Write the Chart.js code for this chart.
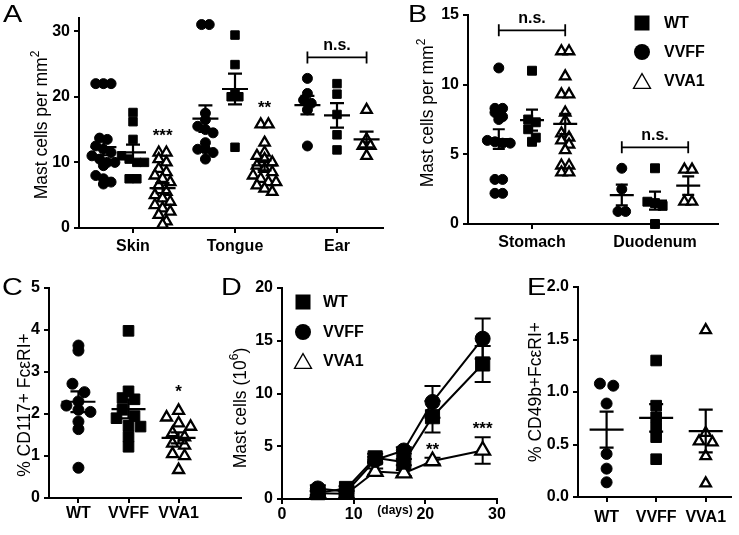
<!DOCTYPE html>
<html><head><meta charset="utf-8"><title>Mast cells</title>
<script src="https://cdn.jsdelivr.net/npm/chart.js@4.4.1/dist/chart.umd.min.js"></script>
<style>
html,body{margin:0;padding:0;background:#fff;}
#fig{position:relative;width:739px;height:535px;overflow:hidden;background:#fff;}
#fig canvas{position:absolute;}
</style></head>
<body><div id="fig">
<canvas id="cA"></canvas><canvas id="cB"></canvas><canvas id="cC"></canvas><canvas id="cD"></canvas><canvas id="cE"></canvas>
</div>
<script>
// ================= DATA =================
const groupNames = ['WT', 'VVFF', 'VVA1'];

// Panel A : mast cells per mm2
const tissuesA = ['Skin', 'Tongue', 'Ear'];
const skinVVFF   = [22, 22, 22, 13.7, 13.5, 12.5, 12, 11.5, 11, 10.5, 10, 10, 9.5, 8, 7.5, 7, 6.7];
const skinWT     = [17.6, 16.2, 13.5, 11, 10.5, 10, 10, 7.5, 7.5];
const skinVVA1   = [11.5, 11.5, 10.5, 10, 9, 8.5, 8, 7.5, 7, 6.5, 5.5, 5, 4.5, 4, 3.5, 3, 2.5, 2, 1, 0.5];
const tongueVVFF = [31, 31, 17.5, 16.5, 15.5, 15, 14.5, 13, 12, 12, 11.5, 10.5];
const tongueWT   = [29.4, 24.9, 20.5, 20, 20, 12.3];
const tongueVVA1 = [15.8, 15.8, 13, 11.5, 11, 10.5, 10, 9.5, 9, 8.5, 8, 7.5, 7, 7, 6.5, 6, 5.5];
const earVVFF    = [22.8, 20.5, 19.5, 19, 18, 12.5];
const earWT      = [22, 20.4, 17.3, 14.2, 11.9];
const earVVA1    = [18, 13.5, 12.5, 12.5, 11];
const ticksA = [0, 10, 20, 30];

// Panel B
const tissuesB = ['Stomach', 'Duodenum'];
const stomachVVFF = [11.2, 8.3, 8.3, 8, 7.7, 7.5, 6, 5.9, 5.8, 5.8, 3.2, 3.2, 2.2, 2.2];
const stomachWT   = [11, 7.5, 7.3, 6.8, 6.2, 5.9];
const stomachVVA1 = [12.4, 12.4, 10.6, 9.3, 9.3, 8, 7.4, 6.5, 6.2, 6, 5.7, 5.3, 4.2, 4.2, 3.7, 3.7];
const duodVVFF = [4.0, 2.5, 0.9, 0.9];
const duodWT   = [4.0, 1.6, 1.5, 1.3, 0];
const duodVVA1 = [3.9, 3.9, 1.6, 1.6];
const ticksB = [0, 5, 10, 15];

// Panel C : % CD117+ FceRI+
const cWT   = [3.63, 3.51, 2.72, 2.52, 2.3, 2.2, 2.1, 2.05, 1.82, 1.64, 0.72];
const cVVFF = [3.98, 2.54, 2.38, 2.35, 2.1, 1.95, 1.9, 1.72, 1.7, 1.46, 1.22];
const cVVA1 = [2.08, 1.92, 1.78, 1.7, 1.55, 1.45, 1.3, 1.25, 1.05, 1.0, 0.67];
const ticksC = [0, 1, 2, 3, 4, 5];

// Panel D : mast cells (10^6) over days
const days = [5, 9, 13, 17, 21, 28];
const dWT      = [0.6, 1.0, 3.9, 3.5, 7.8, 12.8];
const dWTsem   = [0.2, 0.2, 0.4, 0.3, 1.5, 1.7];
const dVVFF    = [1.0, 0.7, 3.7, 4.6, 9.2, 15.2];
const dVVFFsem = [0.3, 0.2, 0.3, 0.3, 1.5, 1.9];
const dVVA1    = [0.55, 0.5, 2.6, 2.45, 3.6, 4.6];
const dVVA1sem = [0.2, 0.2, 0.3, 0.3, 0.3, 1.25];
const ticksDx = [0, 10, 20, 30];
const ticksDy = [0, 5, 10, 15, 20];

// Panel E : % CD49b+FceRI+
const eWT   = [1.08, 1.06, 0.89, 0.41, 0.27, 0.14];
const eVVFF = [1.30, 0.87, 0.76, 0.66, 0.57, 0.36];
const eVVA1 = [1.59, 0.61, 0.53, 0.52, 0.39, 0.13];
const ticksE = [0, 0.5, 1, 1.5, 2];

// ================= HELPERS =================
const FONT = 'Arial, "Liberation Sans", Helvetica, sans-serif';
Chart.defaults.font.family = FONT;
Chart.defaults.color = '#000';

const MARK = {
  circle:   {pointStyle:'circle',   pointBackgroundColor:'#000', pointBorderColor:'#000', pointBorderWidth:1},
  square:   {pointStyle:'rect',     pointBackgroundColor:'#000', pointBorderColor:'#000', pointBorderWidth:1},
  triangle: {pointStyle:'triangle', pointBackgroundColor:'#fff', pointBorderColor:'#000', pointBorderWidth:2.3}
};

function stats(v){
  const n=v.length, m=v.reduce((a,b)=>a+b,0)/n;
  const sd=Math.sqrt(v.reduce((a,b)=>a+(b-m)*(b-m),0)/(n-1));
  return {mean:m, sem:sd/Math.sqrt(n), max:Math.max(...v)};
}
function swarm(values, center, bin, step){
  const bins=new Map();
  values.forEach(v=>{const k=Math.round(v/bin); if(!bins.has(k)) bins.set(k,[]); bins.get(k).push(v);});
  const pts=[];
  bins.forEach(arr=>arr.forEach((v,i)=>pts.push({x:center+(i-(arr.length-1)/2)*step, y:v})));
  return pts;
}
function groupSet(values, center, shape, r, bin, step){
  return Object.assign({data:swarm(values,center,bin,step), pointRadius:r, pointHoverRadius:r, showLine:false, clip:false}, MARK[shape]);
}
function drawMarker(ctx, shape, x, y, size, lw){
  ctx.save(); ctx.strokeStyle='#000'; ctx.lineWidth=lw;
  if(shape==='square'){ctx.fillStyle='#000'; ctx.fillRect(x-size/2,y-size/2,size,size);}
  else if(shape==='circle'){ctx.fillStyle='#000'; ctx.beginPath(); ctx.arc(x,y,size/2,0,2*Math.PI); ctx.fill();}
  else {const h=size*0.866; ctx.fillStyle='#fff'; ctx.beginPath();
    ctx.moveTo(x,y-h/2); ctx.lineTo(x+size/2,y+h/2); ctx.lineTo(x-size/2,y+h/2); ctx.closePath(); ctx.fill(); ctx.stroke();}
  ctx.restore();
}
function drawRich(ctx, segs, x, y, size, rotate){
  ctx.save(); ctx.translate(x,y); if(rotate) ctx.rotate(-Math.PI/2);
  ctx.fillStyle='#000'; ctx.textBaseline='alphabetic'; ctx.textAlign='left';
  let total=0; const widths=segs.map(s=>{ctx.font=(s.sup?Math.round(size*0.68):size)+'px '+FONT; const w=ctx.measureText(s.t).width; total+=w; return w;});
  let cx=-total/2;
  segs.forEach((s,i)=>{ctx.font=(s.sup?Math.round(size*0.68):size)+'px '+FONT; ctx.fillText(s.t,cx,s.sup?-size*0.45:0); cx+=widths[i];});
  ctx.restore();
}

function decor(L, cfg){
  return {
    id:'decor',
    beforeDatasetsDraw(chart){
      if(!cfg.errorBars) return;
      const {ctx, scales:{x,y}}=chart;
      ctx.save(); ctx.strokeStyle='#000'; ctx.lineWidth=2;
      cfg.errorBars.forEach(eb=>{
        eb.vals.forEach((v,i)=>{
          const px=x.getPixelForValue(eb.xs[i]), yt=y.getPixelForValue(v+eb.sem[i]), yb=y.getPixelForValue(v-eb.sem[i]);
          ctx.beginPath(); ctx.moveTo(px,yt); ctx.lineTo(px,yb);
          ctx.moveTo(px-8,yt); ctx.lineTo(px+8,yt); ctx.moveTo(px-8,yb); ctx.lineTo(px+8,yb); ctx.stroke();
        });
      });
      ctx.restore();
    },
    afterDatasetsDraw(chart){
      const {ctx, scales:{x,y}}=chart;
      ctx.save(); ctx.strokeStyle='#000'; ctx.fillStyle='#000';
      (cfg.meanSem||[]).forEach(g=>{
        const s=stats(g.vals), cx=x.getPixelForValue(g.center);
        const ym=y.getPixelForValue(s.mean), yt=y.getPixelForValue(s.mean+s.sem), yb=y.getPixelForValue(s.mean-s.sem);
        ctx.lineWidth=2.2; ctx.beginPath();
        ctx.moveTo(cx-cfg.meanHW,ym); ctx.lineTo(cx+cfg.meanHW,ym);
        ctx.moveTo(cx,yt); ctx.lineTo(cx,yb);
        ctx.moveTo(cx-cfg.capHW,yt); ctx.lineTo(cx+cfg.capHW,yt);
        ctx.moveTo(cx-cfg.capHW,yb); ctx.lineTo(cx+cfg.capHW,yb);
        ctx.stroke();
      });
      (cfg.annots||[]).forEach(a=>{
        if(a.type==='star'){
          ctx.font='bold 17px '+FONT; ctx.textAlign='center'; ctx.textBaseline='alphabetic';
          ctx.fillText(a.text, x.getPixelForValue(a.x), y.getPixelForValue(a.y)+9.5);
        } else {
          const x1=x.getPixelForValue(a.x1), x2=x.getPixelForValue(a.x2), py=y.getPixelForValue(a.y);
          ctx.lineWidth=1.8; ctx.beginPath();
          ctx.moveTo(x1,py); ctx.lineTo(x2,py); ctx.moveTo(x1,py-6); ctx.lineTo(x1,py+6); ctx.moveTo(x2,py-6); ctx.lineTo(x2,py+6);
          ctx.stroke();
          ctx.font='bold 16px '+FONT; ctx.textAlign='center'; ctx.textBaseline='alphabetic';
          ctx.fillText(a.text,(x1+x2)/2,py-7);
        }
      });
      ctx.restore();
    },
    afterDraw(chart){
      const ctx=chart.ctx; ctx.save(); ctx.translate(-L.box.l,-L.box.t);
      ctx.save(); ctx.translate(L.letter.x,L.letter.y); ctx.scale(1.2,1);
      ctx.font='24px '+FONT; ctx.fillStyle='#000'; ctx.textBaseline='alphabetic'; ctx.textAlign='left';
      ctx.fillText(L.letter.t,0,0); ctx.restore();
      drawRich(ctx, cfg.yTitle, L.ytitle.x, L.ytitle.y, 17.5, true);
      if(L.legend){
        L.legend.items.forEach((it,i)=>{
          const yy=L.legend.ys[i];
          drawMarker(ctx, it.shape, L.legend.x, yy, it.size, 1.3);
          ctx.font='bold 16px '+FONT; ctx.fillStyle='#000'; ctx.textAlign='left'; ctx.textBaseline='middle';
          ctx.fillText(it.label, L.legend.labelX, yy+1);
        });
      }
      (L.extra||[]).forEach(t=>{ctx.font=t.font; ctx.fillStyle='#000'; ctx.textAlign='center'; ctx.textBaseline='middle'; ctx.fillText(t.t,t.x,t.y);});
      ctx.restore();
    }
  };
}

function buildPanel(id, L, cfg){
  const cv=document.getElementById(id);
  const {box, area}=L;
  cv.width=box.w; cv.height=box.h;
  Object.assign(cv.style,{left:box.l+'px',top:box.t+'px',width:box.w+'px',height:box.h+'px'});
  const yW=area.l-box.l, xH=box.t+box.h-area.b;
  const grid={display:true, drawOnChartArea:false, drawTicks:true, tickLength:5, color:'#000', lineWidth:2};
  const border={display:true, color:'#000', width:2};
  const tickFont={size:16, weight:'bold', family:FONT};
  return new Chart(cv,{
    type:'scatter',
    data:{datasets:cfg.datasets},
    options:{
      responsive:false, animation:false, events:[],
      layout:{padding:{left:0,bottom:0,top:area.t-box.t,right:box.l+box.w-area.r}},
      plugins:{legend:{display:false}, tooltip:{enabled:false}},
      scales:{
        x:{type:'linear', position:'bottom', min:cfg.xMin, max:cfg.xMax, grid, border,
          afterBuildTicks:s=>{s.ticks=cfg.xTicks.map(v=>({value:v}));},
          afterFit:s=>{s.height=xH;},
          ticks:{autoSkip:false, maxRotation:0, minRotation:0, padding:cfg.xPad, font:tickFont, color:'#000', callback:cfg.xLabel}},
        y:{type:'linear', position:'left', min:cfg.yMin, max:cfg.yMax, grid, border,
          afterBuildTicks:s=>{s.ticks=cfg.yTicks.map(v=>({value:v}));},
          afterFit:s=>{s.width=yW;},
          ticks:{padding:4, font:tickFont, color:'#000', callback:cfg.yLabel||(v=>String(v))}}
      }
    },
    plugins:[decor(L,cfg)]
  });
}

const mastTitle=[{t:'Mast cells per mm'},{t:'2',sup:true}];

// ================= PANEL A =================
(function(){
  const L={box:{l:0,t:0,w:395,h:265}, area:{l:79,t:18,r:383,b:228},
    letter:{t:'A',x:3,y:22}, ytitle:{x:47,y:125}};
  const off=0.29, bin=1.5, step=0.075, yMax=32;
  const sets=[[skinVVFF,skinWT,skinVVA1],[tongueVVFF,tongueWT,tongueVVA1],[earVVFF,earWT,earVVA1]];
  const shapes=['circle','square','triangle'], radii=[5,6,6];
  const datasets=[], meanSem=[];
  sets.forEach((trip,ti)=>trip.forEach((vals,gi)=>{
    const c=ti+1+(gi-1)*off;
    datasets.push(groupSet(vals,c,shapes[gi],radii[gi],bin,step));
    meanSem.push({vals,center:c});
  }));
  const annots=[
    {type:'star', x:1+off, y:stats(skinVVA1).max+0.1*yMax, text:'***'},
    {type:'star', x:2+off, y:stats(tongueVVA1).max+0.1*yMax, text:'**'},
    {type:'bracket', x1:3-off, x2:3+off, y:Math.max(...earVVFF,...earWT,...earVVA1)+0.1*yMax, text:'n.s.'}
  ];
  buildPanel('cA',L,{datasets, meanSem, annots, meanHW:13, capHW:7,
    xMin:1-54/102, xMax:3+46/102, xTicks:[1,2,3], xLabel:v=>tissuesA[v-1], xPad:4,
    yMin:0, yMax, yTicks:ticksA, yTitle:mastTitle});
})();

// ================= PANEL B =================
(function(){
  const L={box:{l:385,t:0,w:354,h:262}, area:{l:468,t:15,r:718,b:224},
    letter:{t:'B',x:408,y:22}, ytitle:{x:433,y:113},
    legend:{x:642, ys:[23,52,81], labelX:664, items:[
      {shape:'square',size:15,label:groupNames[0]},
      {shape:'circle',size:16,label:groupNames[1]},
      {shape:'triangle',size:17,label:groupNames[2]}]}};
  const off=0.27, bin=0.72, step=0.062, yMax=15;
  const sets=[[stomachVVFF,stomachWT,stomachVVA1],[duodVVFF,duodWT,duodVVA1]];
  const shapes=['circle','square','triangle'], radii=[5,6.3,6];
  const datasets=[], meanSem=[];
  sets.forEach((trip,ti)=>trip.forEach((vals,gi)=>{
    const c=ti+1+(gi-1)*off;
    datasets.push(groupSet(vals,c,shapes[gi],radii[gi],bin,step));
    meanSem.push({vals,center:c});
  }));
  const annots=[
    {type:'bracket', x1:1-off, x2:1+off, y:Math.max(...stomachVVFF,...stomachWT,...stomachVVA1)+0.1*yMax, text:'n.s.'},
    {type:'bracket', x1:2-off, x2:2+off, y:Math.max(...duodVVFF,...duodWT,...duodVVA1)+0.1*yMax, text:'n.s.'}
  ];
  buildPanel('cB',L,{datasets, meanSem, annots, meanHW:12, capHW:6,
    xMin:1-64/123, xMax:2+63/123, xTicks:[1,2], xLabel:v=>tissuesB[v-1], xPad:4,
    yMin:0, yMax, yTicks:ticksB, yTitle:mastTitle});
})();

// ================= PANEL C =================
(function(){
  const L={box:{l:0,t:270,w:250,h:265}, area:{l:49,t:288,r:245,b:498},
    letter:{t:'C',x:2,y:295}, ytitle:{x:30,y:405}};
  const bin=0.26, step=0.24, yMax=5;
  const vals=[cWT,cVVFF,cVVA1], shapes=['circle','square','triangle'], radii=[5.5,7.5,6.3];
  const datasets=vals.map((v,i)=>groupSet(v,i+1,shapes[i],radii[i],bin,step));
  const meanSem=vals.map((v,i)=>({vals:v,center:i+1}));
  const annots=[{type:'star', x:3, y:stats(cVVA1).max+0.11*yMax, text:'*'}];
  buildPanel('cC',L,{datasets, meanSem, annots, meanHW:17, capHW:8,
    xMin:1-30/51, xMax:3+64/51, xTicks:[1,2,3], xLabel:v=>groupNames[v-1], xPad:1,
    yMin:0, yMax, yTicks:ticksC, yTitle:[{t:'% CD117+ Fc\u03b5RI+'}]});
})();

// ================= PANEL D =================
(function(){
  const L={box:{l:215,t:270,w:300,h:265}, area:{l:282,t:288,r:497,b:499},
    letter:{t:'D',x:221,y:295}, ytitle:{x:246,y:408},
    legend:{x:303, ys:[302,332,361], labelX:323, items:[
      {shape:'square',size:15,label:groupNames[0]},
      {shape:'circle',size:16,label:groupNames[1]},
      {shape:'triangle',size:17,label:groupNames[2]}]},
    extra:[{t:'(days)', x:395, y:511, font:'bold 12px '+FONT}]};
  const line=(vals,shape,r)=>Object.assign({data:days.map((d,i)=>({x:d,y:vals[i]})), showLine:true, borderColor:'#000', borderWidth:2,
    pointRadius:r, pointHoverRadius:r, clip:false, tension:0}, MARK[shape]);
  const datasets=[line(dWT,'square',10), line(dVVFF,'circle',7.5), line(dVVA1,'triangle',8.5)];
  const errorBars=[{xs:days,vals:dWT,sem:dWTsem},{xs:days,vals:dVVFF,sem:dVVFFsem},{xs:days,vals:dVVA1,sem:dVVA1sem}];
  const starsD=[{day:21,text:'**'},{day:28,text:'***'}];
  const annots=starsD.map(s=>{const i=days.indexOf(s.day); return {type:'star', x:s.day, y:dVVA1[i]+dVVA1sem[i]+0.06*20, text:s.text};});
  buildPanel('cD',L,{datasets, errorBars, annots,
    xMin:0, xMax:30, xTicks:ticksDx, xLabel:v=>String(v), xPad:1,
    yMin:0, yMax:20, yTicks:ticksDy, yTitle:[{t:'Mast cells (10'},{t:'6',sup:true},{t:')'}]});
})();

// ================= PANEL E =================
(function(){
  const L={box:{l:505,t:270,w:234,h:265}, area:{l:578,t:287,r:738,b:497},
    letter:{t:'E',x:527,y:295}, ytitle:{x:541,y:392}};
  const bin=0.105, step=0.27, yMax=2;
  const vals=[eWT,eVVFF,eVVA1], shapes=['circle','square','triangle'], radii=[5.5,7.5,6];
  const datasets=vals.map((v,i)=>groupSet(v,i+1,shapes[i],radii[i],bin,step));
  const meanSem=vals.map((v,i)=>({vals:v,center:i+1}));
  buildPanel('cE',L,{datasets, meanSem, annots:[], meanHW:17, capHW:7,
    xMin:1-30/52, xMax:3+26/52, xTicks:[1,2,3], xLabel:v=>groupNames[v-1], xPad:6,
    yMin:0, yMax, yTicks:ticksE, yLabel:v=>v.toFixed(1), yTitle:[{t:'% CD49b+Fc\u03b5RI+'}]});
})();
</script></body></html>
